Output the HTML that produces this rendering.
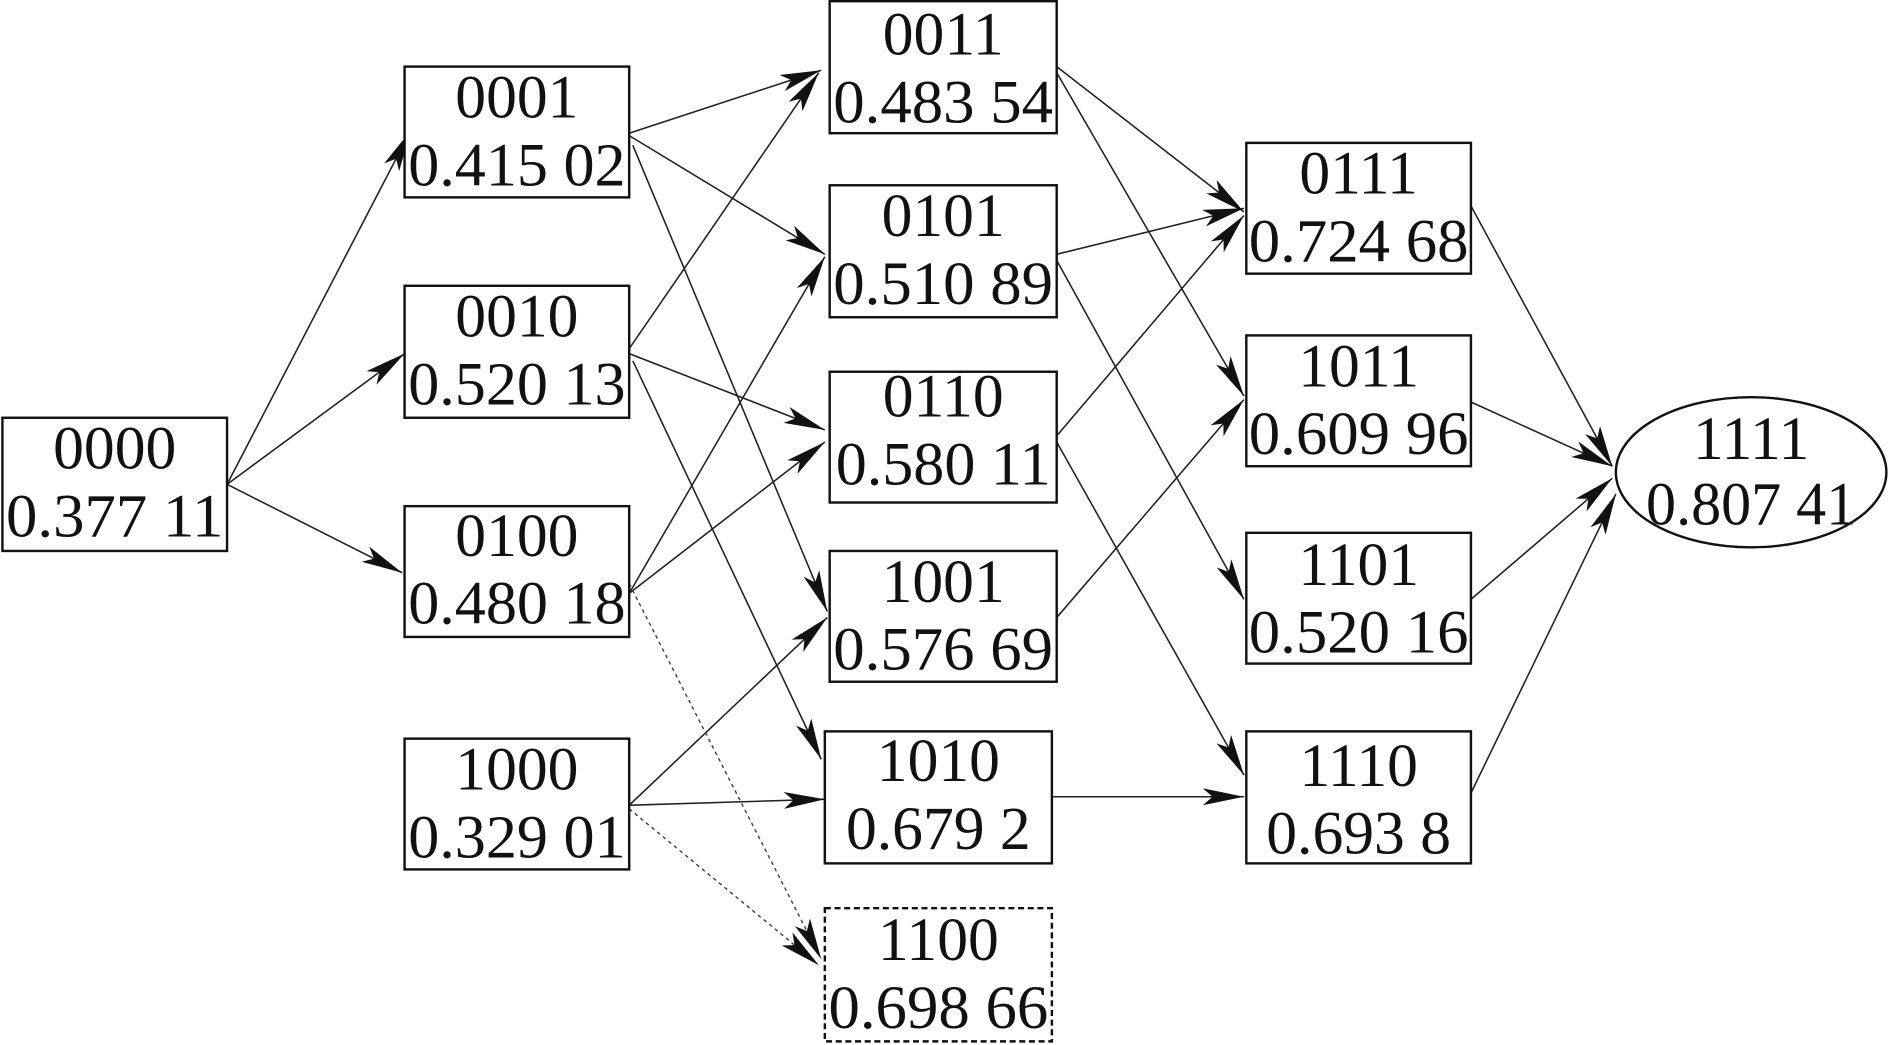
<!DOCTYPE html>
<html><head><meta charset="utf-8"><style>
html,body{margin:0;padding:0;background:#fff;}
svg{display:block;}
text{font-family:"Liberation Serif",serif;font-size:51px;fill:#111;text-anchor:middle;}
</style></head><body>
<svg width="1890" height="1045" viewBox="0 0 1565 863" preserveAspectRatio="none" xmlns="http://www.w3.org/2000/svg">
<defs>
<marker id="a" viewBox="0 0 34 14" refX="34" refY="7" markerWidth="34" markerHeight="14" markerUnits="userSpaceOnUse" orient="auto">
<path d="M0,0 L34,7 L0,14 L8,7 z" fill="#111"/>
</marker>
</defs>
<g stroke="#222" stroke-width="1.3" fill="none" marker-end="url(#a)">
<line x1="188" y1="400" x2="340" y2="108"/>
<line x1="188" y1="400" x2="335" y2="292"/>
<line x1="188" y1="400" x2="333" y2="473"/>
<line x1="521" y1="110" x2="680" y2="58"/>
<line x1="521" y1="112" x2="683" y2="210"/>
<line x1="524" y1="120" x2="685" y2="505"/>
<line x1="521" y1="288" x2="678" y2="60"/>
<line x1="521" y1="292" x2="683" y2="355"/>
<line x1="524" y1="298" x2="680" y2="627"/>
<line x1="521" y1="490" x2="683" y2="212"/>
<line x1="521" y1="490" x2="683" y2="365"/>
<line x1="521" y1="665" x2="685" y2="510"/>
<line x1="521" y1="665" x2="683" y2="660"/>
<line x1="875" y1="55" x2="1030" y2="175"/>
<line x1="875" y1="60" x2="1030" y2="327"/>
<line x1="875" y1="210" x2="1030" y2="172"/>
<line x1="875" y1="215" x2="1030" y2="495"/>
<line x1="875" y1="360" x2="1030" y2="178"/>
<line x1="875" y1="365" x2="1030" y2="640"/>
<line x1="875" y1="510" x2="1030" y2="330"/>
<line x1="871" y1="658" x2="1030" y2="658"/>
<line x1="1218" y1="170" x2="1335" y2="385"/>
<line x1="1218" y1="332" x2="1335" y2="385"/>
<line x1="1218" y1="495" x2="1335" y2="395"/>
<line x1="1218" y1="655" x2="1338" y2="408"/>
</g>
<g stroke="#444" stroke-width="1.2" stroke-dasharray="3,3" fill="none" marker-end="url(#a)">
<line x1="521" y1="482" x2="680" y2="792"/>
<line x1="521" y1="668" x2="678" y2="797"/>
</g>
<g stroke="#111" stroke-width="2" fill="#fff">
<rect x="2" y="345" width="186" height="110"/>
<rect x="335" y="55" width="186" height="108"/>
<rect x="335" y="236" width="186" height="109"/>
<rect x="335" y="418" width="186" height="108"/>
<rect x="335" y="610" width="186" height="108"/>
<rect x="687" y="1" width="188" height="109"/>
<rect x="687" y="153" width="188" height="109"/>
<rect x="687" y="307" width="188" height="108"/>
<rect x="687" y="455" width="188" height="108"/>
<rect x="683" y="604" width="188" height="109"/>
<rect x="683" y="750" width="188" height="110" stroke-dasharray="5,3"/>
<rect x="1032" y="118" width="186" height="108"/>
<rect x="1032" y="277" width="186" height="108"/>
<rect x="1032" y="440" width="186" height="108"/>
<rect x="1032" y="604" width="186" height="109"/>
<ellipse cx="1450" cy="390" rx="112" ry="62"/>
</g>
<g>
<text x="95" y="387">0000</text><text x="95" y="443" textLength="180" lengthAdjust="spacingAndGlyphs">0.377 11</text>
<text x="428" y="97">0001</text><text x="428" y="153" textLength="180" lengthAdjust="spacingAndGlyphs">0.415 02</text>
<text x="428" y="278">0010</text><text x="428" y="334" textLength="180" lengthAdjust="spacingAndGlyphs">0.520 13</text>
<text x="428" y="459">0100</text><text x="428" y="515" textLength="180" lengthAdjust="spacingAndGlyphs">0.480 18</text>
<text x="428" y="652">1000</text><text x="428" y="708" textLength="180" lengthAdjust="spacingAndGlyphs">0.329 01</text>
<text x="781" y="45">0011</text><text x="781" y="101" textLength="182" lengthAdjust="spacingAndGlyphs">0.483 54</text>
<text x="781" y="195">0101</text><text x="781" y="251" textLength="182" lengthAdjust="spacingAndGlyphs">0.510 89</text>
<text x="781" y="344">0110</text><text x="781" y="400" textLength="178" lengthAdjust="spacingAndGlyphs">0.580 11</text>
<text x="781" y="497">1001</text><text x="781" y="553" textLength="182" lengthAdjust="spacingAndGlyphs">0.576 69</text>
<text x="777" y="645">1010</text><text x="777" y="701">0.679 2</text>
<text x="777" y="793">1100</text><text x="777" y="849" textLength="182" lengthAdjust="spacingAndGlyphs">0.698 66</text>
<text x="1125" y="160">0111</text><text x="1125" y="216" textLength="182" lengthAdjust="spacingAndGlyphs">0.724 68</text>
<text x="1125" y="319">1011</text><text x="1125" y="375" textLength="182" lengthAdjust="spacingAndGlyphs">0.609 96</text>
<text x="1125" y="483">1101</text><text x="1125" y="539" textLength="182" lengthAdjust="spacingAndGlyphs">0.520 16</text>
<text x="1125" y="649">1110</text><text x="1125" y="705">0.693 8</text>
<text x="1450" y="379">1111</text><text x="1450" y="433" textLength="174" lengthAdjust="spacingAndGlyphs">0.807 41</text>
</g>
</svg>
</body></html>
